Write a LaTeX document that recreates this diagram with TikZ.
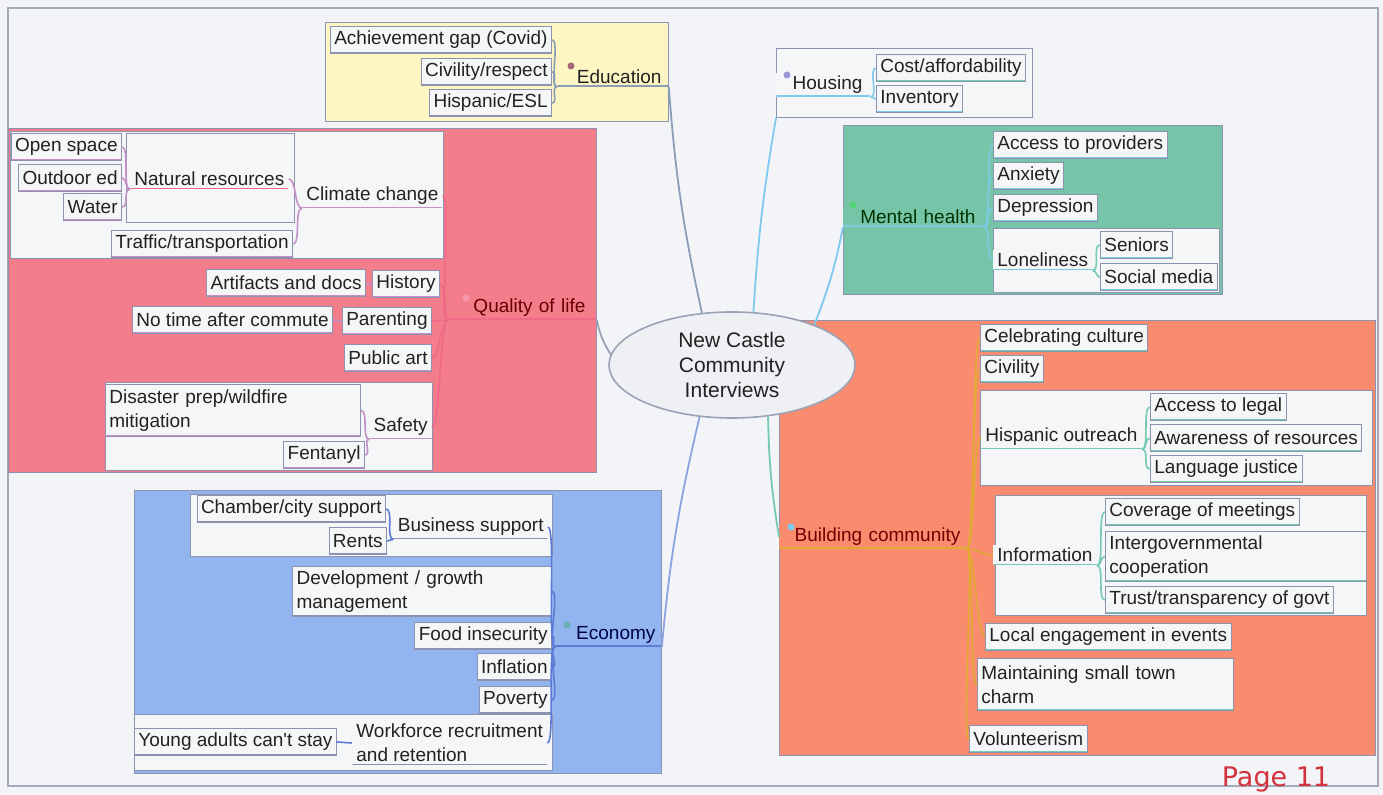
\documentclass[tikz,border=0pt]{standalone}
\usepackage{fontspec}
\setmainfont{Liberation Sans}
\newfontfamily\pagefont{DejaVu Sans}
\usepackage{xcolor}
\usepackage{tikz}
\usetikzlibrary{positioning,shapes.geometric}
\definecolor{paper}{HTML}{F3F4F7}
\definecolor{frame}{HTML}{A3AAB9}
\definecolor{boxclr}{HTML}{F5F6F8}
\definecolor{edgeclr}{HTML}{8D92AE}
\definecolor{inkclr}{HTML}{222222}
\definecolor{edufill}{HTML}{FDF6C3}
\definecolor{qolfill}{HTML}{F47D8B}
\definecolor{ecofill}{HTML}{92B5F0}
\definecolor{mhfill}{HTML}{76C5A8}
\definecolor{bcfill}{HTML}{F98B6F}
\definecolor{ctrfill}{HTML}{EEF0F4}
\definecolor{ctrlink}{HTML}{9AA2B6}
\definecolor{edulink}{HTML}{8A9DB8}
\definecolor{qollink}{HTML}{EE6A86}
\definecolor{qolsub}{HTML}{C590C8}
\definecolor{ecolink}{HTML}{5B7BD6}
\definecolor{houlink}{HTML}{7FC9EE}
\definecolor{mhlink}{HTML}{7ACBE0}
\definecolor{bclink}{HTML}{E3A935}
\definecolor{subteal}{HTML}{74C9B5}
\definecolor{pagered}{HTML}{D2333D}

\begin{document}
\begin{tikzpicture}[x=0.5pt,y=-0.5pt,
 font=\fontsize{9.5}{12}\selectfont, text=inkclr,
 grp/.style={draw=edgeclr,fill=#1,anchor=north west,inner sep=0pt},
 region/.style={draw=edgeclr,fill=boxclr,anchor=north west,inner sep=0pt},
 uline/.style={path picture={\draw[#1,line width=1.2pt] (path picture bounding box.south west)--(path picture bounding box.south east);}},
 leaf/.style={draw=edgeclr,fill=boxclr,inner xsep=2pt,inner ysep=0pt,minimum height=13.5pt,align=left,uline=#1},
 leaf/.default=edgeclr,
 mid/.style={fill=boxclr,inner xsep=2pt,inner ysep=1.5pt,align=left,uline=#1},
 topic/.style 2 args={anchor=south west,fill=#2,inner xsep=2pt,inner ysep=1.5pt,align=right,uline=#1},
 ball/.style={circle,inner sep=0pt,minimum size=3.5pt,fill=#1},
 ctr/.style={ellipse,draw=ctrlink,fill=ctrfill,line width=0.8pt,minimum width=123pt,minimum height=53pt,align=center,inner sep=0pt,font=\fontsize{10.5}{12.3}\selectfont},
 link/.style={draw=#1,line width=0.9pt},
 brk/.style={draw=#1,line width=0.8pt,max distance=4pt}
]
\useasboundingbox (0,0) rectangle (1383,795);
\fill[paper] (0,0) rectangle (1383,795);
\draw[frame,line width=0.8pt] (8,8) rectangle (1378,786);

% groups
\node[grp=edufill,minimum width=171.5pt,minimum height=49.5pt] (edugrp) at (325,22) {};
\node[grp=qolfill,minimum width=294pt,minimum height=172pt] (qolgrp) at (8,128) {};
\node[grp=ecofill,minimum width=263.5pt,minimum height=141.5pt] (ecogrp) at (134,490) {};
\node[grp=boxclr,minimum width=128pt,minimum height=34.5pt] (hougrp) at (776,48) {};
\node[grp=mhfill,minimum width=189.5pt,minimum height=84.5pt] (mhgrp) at (843,125) {};
\node[grp=bcfill,minimum width=298pt,minimum height=217.5pt] (bcgrp) at (779,320) {};

% white sub-regions
\node[region,minimum width=216.5pt,minimum height=63.5pt] (climreg) at (10,131) {};
\node[region,minimum width=84pt,minimum height=44.5pt] (natreg) at (126,133) {};
\node[region,minimum width=163.5pt,minimum height=44pt] (safreg) at (105,382) {};
\node[region,minimum width=181pt,minimum height=31pt] (bizreg) at (190,494) {};
\node[region,minimum width=209pt,minimum height=28pt] (wfreg) at (134,714) {};
\node[region,minimum width=113pt,minimum height=32pt] (lonreg) at (993,228) {};
\node[region,minimum width=196pt,minimum height=47.5pt] (hispreg) at (980,390) {};
\node[region,minimum width=185.5pt,minimum height=60pt] (inforeg) at (995,495) {};

% centre
\node[ctr] (ctr) at (732,365) {New Castle\\Community\\Interviews};

% Education
\node[topic={edulink}{edufill},text width=51.5pt] (edu) at (557,87) {Education\hspace*{1.5pt}};
\node[ball=black!45!purple!60] (edudot) at (571,66) {};
\node[leaf,anchor=east] (ach) at (552,40) {Achievement gap (Covid)};
\node[leaf,anchor=east] (civ) at (552,72) {Civility/respect};
\node[leaf,anchor=east] (hesl) at (552,103) {Hispanic/ESL};

% Quality of life
\node[topic={qollink}{qolfill},text width=70pt,text=red!40!black] (qol) at (448,320) {Quality of life\hspace*{3.5pt}};
\node[ball=qollink!70] (qoldot) at (466,298) {};
\node[mid=qolsub,anchor=west] (climate) at (302,196) {Climate change};
\node[mid=qollink,anchor=west] (natres) at (130,179) {Natural resources};
\node[leaf=qolsub,anchor=east] (open) at (122,147) {Open space};
\node[leaf=qolsub,anchor=east] (outd) at (122,178) {Outdoor ed};
\node[leaf=qolsub,anchor=east] (water) at (122,207) {Water};
\node[leaf=qolsub,anchor=east] (traffic) at (293,244) {Traffic/transportation};
\node[leaf=qolsub,anchor=east] (hist) at (440,284) {History};
\node[leaf=qolsub,anchor=east] (artif) at (366,283) {Artifacts and docs};
\node[leaf=qolsub,anchor=east] (parent) at (432,321) {Parenting};
\node[leaf=qolsub,anchor=east] (notime) at (333,320) {No time after commute};
\node[leaf=qolsub,anchor=east] (pubart) at (432,358) {Public art};
\node[mid=qolsub,anchor=east] (safety) at (432,427) {Safety};
\node[leaf=qolsub,anchor=north west,text width=123.5pt,minimum height=26pt] (disaster) at (105,384) {Disaster prep/wildfire\\mitigation};
\node[leaf=qolsub,anchor=east] (fent) at (365,455) {Fentanyl};

% Economy
\node[topic={ecolink}{ecofill},text width=49pt,text=blue!30!black] (eco) at (555,647) {Economy\hspace*{1pt}};
\node[ball=teal!60] (ecodot) at (567,625) {};
\node[mid=edgeclr,anchor=east] (bizsup) at (548,527) {Business support};
\node[leaf,anchor=east] (chamber) at (386,509) {Chamber/city support};
\node[leaf,anchor=east] (rents) at (387,541) {Rents};
\node[leaf,anchor=north east,text width=125.5pt,minimum height=25pt] (devel) at (552,566) {Development / growth\\management};
\node[leaf,anchor=east] (food) at (552,636) {Food insecurity};
\node[leaf,anchor=east] (infl) at (552,667) {Inflation};
\node[leaf,anchor=east] (pov) at (552,700) {Poverty};
\node[mid=edgeclr,anchor=west] (workf) at (352,743) {Workforce recruitment\\and retention};
\node[leaf,anchor=west] (young) at (134,742) {Young adults can\textquotesingle t stay};

% Housing
\node[topic={houlink}{boxclr},text width=43pt] (hou) at (776,97) {Housing\hspace*{2pt}};
\node[ball=black!40!blue!40] (houdot) at (787,75) {};
\node[leaf=subteal,anchor=west] (cost) at (876,68) {Cost/affordability};
\node[leaf=houlink,anchor=west] (inv) at (876,99) {Inventory};

% Mental health
\node[topic={mhlink}{mhfill},text width=66pt,text=green!20!black] (mh) at (843,227) {Mental health\hspace*{2pt}};
\node[ball=green!30!mhfill] (mhdot) at (853,205) {};
\node[leaf=mhlink,anchor=west] (access) at (993,145) {Access to providers};
\node[leaf=mhlink,anchor=west] (anx) at (993,176) {Anxiety};
\node[leaf=mhlink,anchor=west] (dep) at (993,208) {Depression};
\node[mid=mhlink,anchor=west] (lonely) at (993,260) {Loneliness};
\node[leaf=mhlink,anchor=west] (seniors) at (1100,245) {Seniors};
\node[leaf=mhlink,anchor=west] (social) at (1100,277) {Social media};

% Building community
\node[topic={bclink}{bcfill},text width=89.5pt,text=red!45!black] (bc) at (779,549) {Building community\hspace*{1pt}};
\node[ball=houlink] (bcdot) at (791,527) {};
\node[leaf=subteal,anchor=west] (celeb) at (980,338) {Celebrating culture};
\node[leaf=subteal,anchor=west] (civil) at (980,369) {Civility};
\node[mid=subteal,anchor=west] (hispo) at (981,437) {Hispanic outreach};
\node[leaf=subteal,anchor=west] (acclegal) at (1150,407) {Access to legal};
\node[leaf=subteal,anchor=west] (aware) at (1150,438) {Awareness of resources};
\node[leaf=subteal,anchor=west] (langj) at (1150,469) {Language justice};
\node[mid=subteal,anchor=west] (info) at (993,555) {Information};
\node[leaf=subteal,anchor=west] (cover) at (1105,512) {Coverage of meetings};
\node[leaf=subteal,anchor=north west,text width=126.5pt,minimum height=25pt] (intergov) at (1105,531) {Intergovernmental\\cooperation};
\node[leaf=subteal,anchor=west] (trust) at (1105,600) {Trust/transparency of govt};
\node[leaf=subteal,anchor=west] (local) at (985,637) {Local engagement in events};
\node[leaf=subteal,anchor=north west,text width=124pt,minimum height=26pt] (maint) at (977,658) {Maintaining small town\\charm};
\node[leaf=subteal,anchor=west] (volun) at (969,739) {Volunteerism};

% centre to main topics
\draw[link=edulink] (ctr.120) to[bend left=4] (edu.south east);
\draw[link=ctrlink] (ctr.175) to[bend left=10] (qol.south east);
\draw[link=ecolink!70] (ctr.238) to[bend right=4] (eco.south east);
\draw[link=houlink] (ctr.68) to[bend left=3] (hougrp.south west);
\draw[link=houlink] (ctr.26) to[bend right=5] (mh.south west);
\draw[link=subteal] (ctr.305) to[bend right=4] (bc.west);

% brackets
\foreach \c in {ach,civ,hesl}
  \draw[brk=edulink] (edu.south west) to[out=180,in=0] (\c.east);
\foreach \c in {climate,hist,parent,pubart,safety}
  \draw[brk=qollink] (qol.south west) to[out=180,in=0] (\c.east);
\foreach \c in {natres,traffic}
  \draw[brk=qolsub] (climate.south west) to[out=180,in=0] (\c.east);
\foreach \c in {open,outd,water}
  \draw[brk=qolsub] (natres.south west) to[out=180,in=0] (\c.east);
\draw[brk=qolsub] (hist.west) -- (artif.east);
\draw[brk=qolsub] (parent.west) -- (notime.east);
\foreach \c in {disaster,fent}
  \draw[brk=qolsub] (safety.south west) to[out=180,in=0] (\c.east);
\foreach \c in {bizsup,devel,food,infl,pov,workf}
  \draw[brk=ecolink] (eco.south west) to[out=180,in=0] (\c.east);
\foreach \c in {chamber,rents}
  \draw[brk=ecolink] (bizsup.south west) to[out=180,in=0] (\c.east);
\draw[brk=ecolink] (workf.west) to[out=180,in=0] (young.east);
\foreach \c in {cost,inv}
  \draw[brk=houlink] (hou.south east) to[out=0,in=180] (\c.west);
\foreach \c in {access,anx,dep,lonely}
  \draw[brk=mhlink] (mh.south east) to[out=0,in=180] (\c.west);
\foreach \c in {seniors,social}
  \draw[brk=subteal] (lonely.south east) to[out=0,in=180] (\c.west);
\foreach \c in {celeb,civil,hispo,info,local,maint,volun}
  \draw[brk=bclink] (bc.south east) to[out=0,in=180] (\c.west);
\foreach \c in {acclegal,aware,langj}
  \draw[brk=subteal] (hispo.south east) to[out=0,in=180] (\c.west);
\foreach \c in {cover,intergov,trust}
  \draw[brk=subteal] (info.south east) to[out=0,in=180] (\c.west);

\node[font=\pagefont\fontsize{13.5}{16}\selectfont,text=pagered] (pg) at (1276,779) {Page 11};
\end{tikzpicture}
\end{document}
